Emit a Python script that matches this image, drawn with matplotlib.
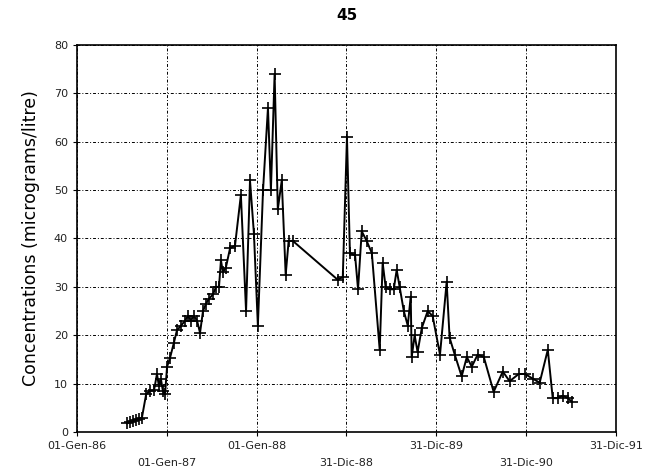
import numpy as np
import pandas as pd
import matplotlib
matplotlib.use("Agg")
import matplotlib.pyplot as plt

# data
dates = ["1986-07-23", "1986-08-04", "1986-08-17", "1986-08-29", "1986-09-10",
         "1986-09-22", "1986-10-09", "1986-10-25", "1986-11-10", "1986-11-22",
         "1986-11-30", "1986-12-08", "1986-12-16", "1986-12-25", "1987-01-02",
         "1987-01-14", "1987-01-30", "1987-02-11", "1987-02-28", "1987-03-16",
         "1987-03-28", "1987-04-09", "1987-04-21", "1987-05-04", "1987-05-16",
         "1987-05-28", "1987-06-09", "1987-06-21", "1987-07-08", "1987-07-20",
         "1987-08-01", "1987-08-09", "1987-08-17", "1987-08-29", "1987-09-15",
         "1987-10-05", "1987-10-29", "1987-11-19", "1987-12-05", "1987-12-21",
         "1988-01-06", "1988-01-27", "1988-02-16", "1988-02-28", "1988-03-14",
         "1988-03-27", "1988-04-12", "1988-04-28", "1988-05-10", "1988-05-27",
         "1988-11-25", "1988-12-16", "1989-01-02", "1989-01-14", "1989-02-04",
         "1989-02-16", "1989-03-03", "1989-03-23", "1989-04-13", "1989-05-15",
         "1989-05-27", "1989-06-08", "1989-06-25", "1989-07-11", "1989-07-23",
         "1989-08-04", "1989-08-21", "1989-09-06", "1989-09-18", "1989-09-22",
         "1989-10-04", "1989-10-16", "1989-11-02", "1989-11-26", "1989-12-16",
         "1990-01-15", "1990-02-11", "1990-02-23", "1990-03-16", "1990-04-13",
         "1990-05-04", "1990-05-24", "1990-06-17", "1990-07-12", "1990-08-21",
         "1990-09-27", "1990-10-25", "1990-12-01", "1990-12-26", "1991-01-28",
         "1991-02-24", "1991-03-29", "1991-04-18", "1991-05-08", "1991-05-29",
         "1991-06-18", "1991-07-04"]
conc = [1.8, 2.0, 2.3, 2.5, 2.7,
        3.0, 7.8, 8.5, 8.6, 12.0,
        9.5, 11.0, 8.5, 7.8, 13.5,
        15.3, 18.5, 21.0, 22.0, 23.0,
        24.0, 23.0, 24.0, 23.0, 20.5,
        25.0, 26.5, 27.5, 28.5, 30.0,
        30.0, 35.5, 33.0, 34.0, 38.0,
        38.5, 49.0, 25.0, 52.0, 41.0,
        22.0, 50.0, 67.0, 50.0, 74.0,
        46.0, 52.0, 32.5, 39.5, 39.5,
        31.5, 32.0, 61.0, 37.0, 36.5,
        29.5, 41.5, 39.5, 37.0, 17.0,
        35.0, 30.0, 29.5, 29.5, 33.5,
        30.0, 25.0, 22.0, 28.0, 15.5,
        20.0, 16.5, 21.5, 25.0, 24.0,
        16.0, 31.0, 19.5, 16.0, 11.5,
        15.5, 13.5, 16.0, 15.5, 8.3,
        12.5, 10.5, 12.0, 12.0, 11.0,
        10.2, 17.0, 7.0, 7.0, 7.5,
        7.0, 6.3]

tick_dates = ["1986-01-01", "1987-01-01", "1988-01-01", "1988-12-31",
              "1989-12-31", "1990-12-31", "1991-12-31"]
tick_labels = ["01-Gen-86", "01-Gen-87", "01-Gen-88", "31-Dic-88",
               "31-Dic-89", "31-Dic-90", "31-Dic-91"]

x = pd.to_datetime(dates)
ticks = pd.to_datetime(tick_dates)

fig = plt.figure(figsize=(6.67, 4.76), dpi=100)
ax = fig.add_axes([0.1154, 0.0924, 0.8081, 0.8131])

ax.plot(x, conc, color="black", lw=1.4, marker="+", ms=8, mew=1.2)

ax.set_xlim(ticks[0], ticks[-1])
ax.set_ylim(0, 80)
ax.set_yticks(np.arange(0, 81, 10))
ax.set_xticks(ticks)
# staggered labels like the excel original
labs = [t if i % 2 == 0 else "\n" + t for i, t in enumerate(tick_labels)]
ax.set_xticklabels(labs, linespacing=1.9)
ax.tick_params(axis="both", labelsize=8, length=3, direction="out", color="black",
               labelcolor="#222222")

ax.grid(True, color="black", linestyle=(0, (3, 2, 1, 2)), lw=0.7)
for s in ax.spines.values():
    s.set_color("black")
    s.set_linewidth(1.2)

ax.set_ylabel("Concentrations (micrograms/litre)", fontsize=12.5, labelpad=10)
ax.set_title("45", fontsize=11, fontweight="bold", pad=18)

fig.savefig("out.png", dpi=100)
